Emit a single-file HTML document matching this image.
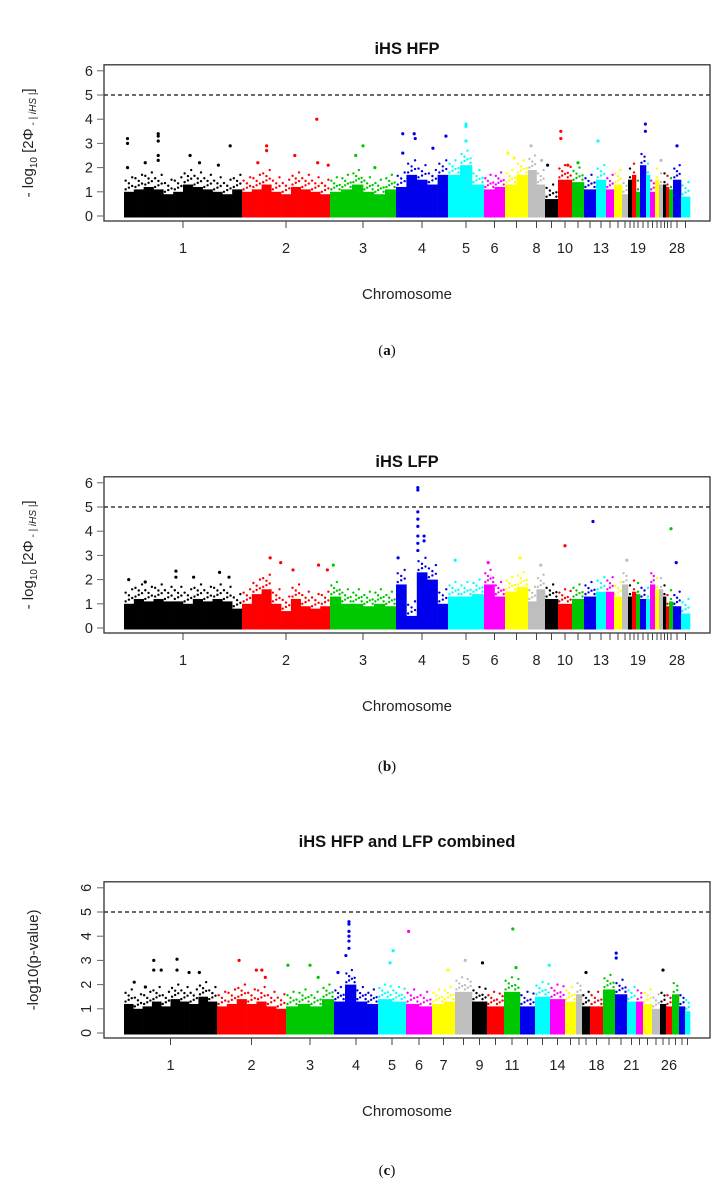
<!DOCTYPE html>
<html><head><meta charset="utf-8"><style>
html,body{margin:0;padding:0;background:#fff}
svg{display:block;font-family:"Liberation Sans",Arial,sans-serif}
</style></head><body>
<svg id="chart" width="723" height="1188" viewBox="0 0 723 1188" xmlns="http://www.w3.org/2000/svg"></svg>
<script>
// ---- shared ----
const colors = ['#000000','#ff0000','#00c800','#0000ee','#00ffff','#ff00ff','#ffff00','#bebebe'];
const yTicks = [0,1,2,3,4,5,6];
const threshold = 5;
// ---- panel a (iHS HFP) ----
const widthsA = [118,88,66,52,36,21,23,17,13,14,12,12,10,8,8,6,4,4,4,6,4,5,4,4,3,3,4,8,9];
const labelsA = ['1','2','3','4','5','6','','8','','10','','','13','','','','','','19','','','','','','','','','28',''];
const bulkA = [[1.0,1.1,1.2,1.1,0.9,1.0,1.3,1.2,1.1,1.0,0.9,1.1],[1.0,1.1,1.3,1.0,0.9,1.2,1.1,1.0,0.9],[1.0,1.1,1.3,1.0,0.9,1.1],[1.2,1.7,1.5,1.3,1.7],[1.7,2.1,1.3],[1.1,1.2],[1.3,1.7],[1.9,1.3],[0.7],[1.5],[1.4],[1.1],[1.5],[1.1],[1.3],[0.9],[1.5],[1.7],[1.0],[2.1],[1.7],[1.0],[1.5],[1.3],[1.3],[1.2],[1.1],[1.5],[0.8]];
const outA = [[0,0.03,3.2],[0,0.03,3.0],[0,0.03,2.0],[0,0.29,3.4],[0,0.29,3.3],[0,0.29,3.1],[0,0.29,2.5],[0,0.29,2.3],[0,0.18,2.2],[0,0.56,2.5],[0,0.64,2.2],[0,0.80,2.1],[0,0.90,2.9],
[1,0.85,4.0],[1,0.28,2.9],[1,0.28,2.7],[1,0.60,2.5],[1,0.86,2.2],[1,0.18,2.2],[1,0.98,2.1],
[2,0.39,2.5],[2,0.50,2.9],[2,0.68,2.0],
[3,0.13,3.4],[3,0.35,3.4],[3,0.37,3.2],[3,0.71,2.8],[3,0.96,3.3],[3,0.13,2.6],
[4,0.5,3.8],[4,0.5,3.7],[4,0.5,3.1],[6,0.13,2.6],[6,0.4,2.4],[7,0.18,2.9],[7,0.8,2.3],[8,0.2,2.1],
[9,0.2,3.5],[9,0.2,3.2],[9,0.7,2.1],[10,0.5,2.2],[12,0.2,3.1],[19,0.9,3.8],[19,0.9,3.5],[27,0.5,2.9],[23,0.5,2.3]];
// ---- panel b (iHS LFP) ----
const widthsB = widthsA;
const labelsB = labelsA;
const bulkB = [[1.0,1.2,1.1,1.2,1.1,1.1,1.0,1.2,1.1,1.2,1.1,0.8],[1.0,1.4,1.6,1.0,0.7,1.2,0.9,0.8,0.9],[1.3,1.0,1.0,0.9,1.0,0.9],[1.8,0.5,2.3,2.0,1.0],[1.3,1.3,1.4],[1.8,1.3],[1.5,1.7],[1.1,1.6],[1.2],[1.0],[1.2],[1.3],[1.5],[1.5],[1.3],[1.8],[1.3],[1.5],[1.4],[1.2],[1.2],[1.8],[1.6],[1.6],[1.3],[0.9],[1.1],[0.9],[0.6]];
const outB = [[0,0.04,2.0],[0,0.18,1.9],[0,0.44,2.35],[0,0.44,2.1],[0,0.59,2.1],[0,0.81,2.3],[0,0.89,2.1],
[1,0.32,2.9],[1,0.44,2.7],[1,0.58,2.4],[1,0.87,2.6],[1,0.97,2.4],[2,0.05,2.6],
[3,0.42,5.8],[3,0.42,5.7],[3,0.42,4.8],[3,0.42,4.5],[3,0.42,4.2],[3,0.42,3.8],[3,0.42,3.5],[3,0.42,3.2],[3,0.54,3.8],[3,0.54,3.6],[3,0.04,2.9],
[4,0.2,2.8],[5,0.2,2.7],[6,0.65,2.9],[7,0.75,2.6],[9,0.5,3.4],[11,0.75,4.4],[26,0.5,4.1],[27,0.4,2.7],[15,0.8,2.8]];
// ---- panel c (combined) ----
const widthsC = [93,69,48,44,28,26,23,17,15,17,16,15,15,15,11,6,8,13,12,12,9,7,9,8,6,6,7,6,5];
const labelsC = ['1','2','3','4','5','6','7','','9','','11','','','14','','','','18','','','21','','','','','26','','',''];
const bulkC = [[1.2,1.0,1.1,1.3,1.1,1.4,1.3,1.2,1.5,1.3],[1.1,1.2,1.4,1.2,1.3,1.1,1.0],[1.1,1.2,1.1,1.4],[1.3,2.0,1.3,1.2],[1.4,1.3],[1.2,1.1],[1.2,1.3],[1.7],[1.3],[1.1],[1.7],[1.1],[1.5],[1.4],[1.3],[1.6],[1.1],[1.1],[1.8],[1.6],[1.3],[1.3],[1.2],[1.0],[1.2],[1.1],[1.6],[1.1],[0.9]];
const outC = [[0,0.11,2.1],[0,0.32,3.0],[0,0.32,2.6],[0,0.40,2.6],[0,0.57,3.05],[0,0.57,2.6],[0,0.70,2.5],[0,0.81,2.5],[0,0.23,1.9],
[1,0.32,3.0],[1,0.57,2.6],[1,0.65,2.6],[1,0.70,2.3],[2,0.04,2.8],[2,0.5,2.8],[2,0.67,2.3],
[3,0.34,4.6],[3,0.34,4.5],[3,0.34,4.2],[3,0.34,4.0],[3,0.34,3.8],[3,0.34,3.5],[3,0.27,3.2],[3,0.09,2.5],
[4,0.54,3.4],[4,0.43,2.9],[5,0.1,4.2],[6,0.7,2.6],[7,0.6,3.0],[8,0.7,2.9],[10,0.55,4.3],[10,0.75,2.7],[12,0.95,2.8],[16,0.5,2.5],[19,0.1,3.3],[19,0.1,3.1],[24,0.5,2.6]];

const NS='http://www.w3.org/2000/svg';
const svg=document.getElementById('chart');
function mk(tag,attrs,parent){const e=document.createElementNS(NS,tag);for(const k in attrs)e.setAttribute(k,attrs[k]);(parent||svg).appendChild(e);return e;}

function drawPanel(p){
  const g=mk('g',{});
  
  
  const L=104,R=710,T=p.y0-6*24.2-6,B=p.y0+5;
  const total=p.widths.reduce((a,b)=>a+b,0);
  const xScale=v=>L+20+(v/total)*566;
  const yScale=v=>p.y0-v*24.2;
  const t=mk('text',{x:407,y:p.titleY,'text-anchor':'middle','font-size':'16.5','font-weight':'bold',fill:'#111'},g);
  t.textContent=p.title;
  
  
  let cum=0; const starts=[];
  p.widths.forEach((w,i)=>{starts.push(cum);
    const col=colors[i%8]; const bins=p.bulk[i]; const bw=w/bins.length;
    bins.forEach((h,j)=>{
      const x0=xScale(cum+j*bw), x1=xScale(cum+(j+1)*bw);
      const r=mk('rect',{x:x0,y:yScale(h),width:Math.max(0.8,x1-x0+0.3),height:yScale(0)-yScale(h)+1.5,fill:col},g);
      
      
      const n=Math.max(1,Math.round((x1-x0)/3));
      for(let k=0;k<n;k++){
        for(let m=0;m<3;m++){
          if((k+m)%2===1 && m>0) continue;
          const d=mk('circle',{cx:x0+(k+0.5)*(x1-x0)/n,cy:yScale(h+0.1+m*0.18+((k%3)*0.07)),r:1.2,fill:col},g);
          
          
        }
      }
    });
    cum+=w;});
  p.out.forEach(o=>{
    const c=mk('circle',{cx:xScale(starts[o[0]]+o[1]*p.widths[o[0]]),cy:yScale(o[2]),r:1.6,fill:colors[o[0]%8]},g);
    
    
  });
  const th=mk('line',{x1:L,x2:R,y1:yScale(threshold),y2:yScale(threshold),stroke:'#111','stroke-width':1.2,'stroke-dasharray':'4,3'},g);
  
  
  const fr=mk('rect',{x:L,y:T,width:R-L,height:B-T,fill:'none',stroke:'#333','stroke-width':1.3},g);
  
  
  yTicks.forEach(v=>{
    const y=yScale(v);
    const tl=mk('line',{x1:L-7,x2:L,y1:y,y2:y,stroke:'#666'},g);
    
    
    const lb=mk('text',{'font-size':'14.5',fill:'#222'},g);
    if(p.rotY){lb.setAttribute('transform','translate('+(L-13)+','+y+') rotate(-90)');lb.setAttribute('text-anchor','middle');lb.setAttribute('y','0');}
    else{lb.setAttribute('x',L-11);lb.setAttribute('y',y+5);lb.setAttribute('text-anchor','end');}
    lb.textContent=v;
    
    
  });
  cum=0;
  p.widths.forEach((w,i)=>{
    const x=xScale(cum+w/2);
    const tl=mk('line',{x1:x,x2:x,y1:B,y2:B+7,stroke:'#444'},g);
    
    
    if(p.labels[i]){const lb=mk('text',{x:x,y:B+32,'text-anchor':'middle','font-size':'14.5',fill:'#222'},g);
      lb.textContent=p.labels[i];
      
      }
    cum+=w;});
  const xt=mk('text',{x:407,y:B+78,'text-anchor':'middle','font-size':'15',fill:'#222'},g);
  xt.textContent='Chromosome';
  
  
  const yc=(T+B)/2;
  const yt=mk('text',{transform:'translate('+p.yTitleX+','+yc+') rotate(-90)','text-anchor':'middle','font-size':'15',fill:'#222'},g);
  
  
  if(p.rotY){yt.textContent='-log10(p-value)';}
  else{yt.innerHTML='- log<tspan font-size="10" dy="4">10</tspan><tspan dy="-4"> [2Φ</tspan><tspan font-size="10" dy="3" font-style="italic"> - | iHS |</tspan><tspan dy="-3">]</tspan>';}
  const le=mk('text',{x:387,y:p.letterY,'text-anchor':'middle','font-size':'15','font-family':'"Liberation Serif",serif',fill:'#111'},g);
  le.innerHTML='(<tspan font-weight="bold">'+p.letter+'</tspan>)';
  
  
}
drawPanel({name:'panel-a-ihs-hfp',title:'iHS HFP',titleY:54,y0:216,widths:widthsA,labels:labelsA,bulk:bulkA,out:outA,rotY:false,yTitleX:33,letter:'a',letterY:355});
drawPanel({name:'panel-b-ihs-lfp',title:'iHS LFP',titleY:467,y0:628,widths:widthsB,labels:labelsB,bulk:bulkB,out:outB,rotY:false,yTitleX:33,letter:'b',letterY:771});
drawPanel({name:'panel-c-combined',title:'iHS HFP and LFP combined',titleY:847,y0:1033,widths:widthsC,labels:labelsC,bulk:bulkC,out:outC,rotY:true,yTitleX:38,letter:'c',letterY:1175});
</script>
</body></html>
